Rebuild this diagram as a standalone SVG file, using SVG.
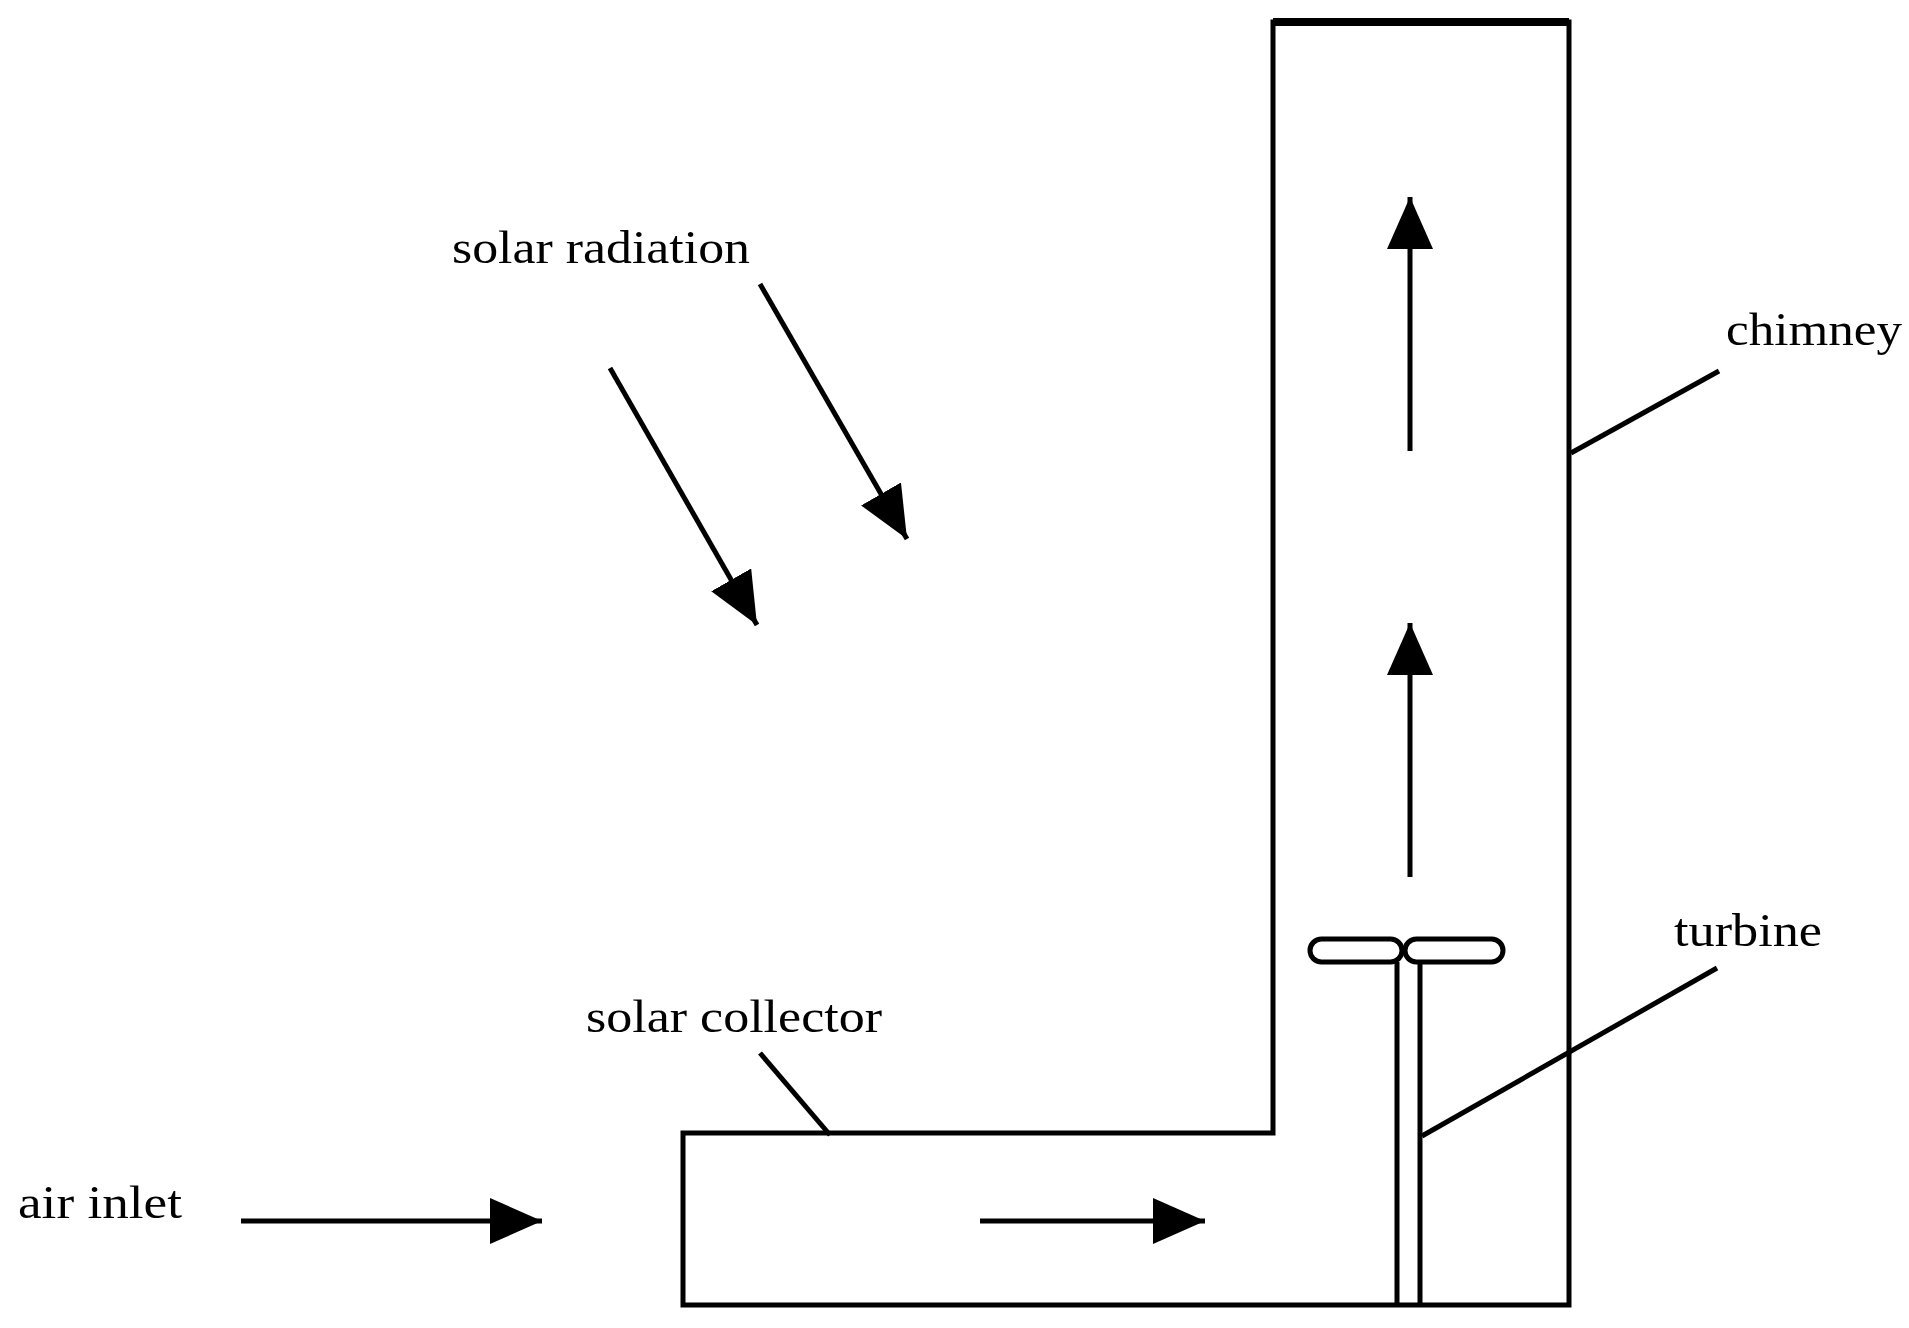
<svg xmlns="http://www.w3.org/2000/svg" width="1909" height="1328" viewBox="0 0 1909 1328">
<defs>
<marker id="ah" markerUnits="userSpaceOnUse" markerWidth="52" markerHeight="46" refX="52" refY="23" orient="auto"><path d="M0,0 L52,23 L0,46 z" fill="#000"/></marker>
</defs>
<style>
.s{stroke:#000;stroke-width:5;fill:none}
.a{stroke:#000;stroke-width:5;fill:none;marker-end:url(#ah)}
text{font-family:"Liberation Serif","Times New Roman",serif;font-size:46px;fill:#000}
</style>
<rect width="1909" height="1328" fill="#fff"/>
<g id="structure">
<path class="s" d="M1273,1133 L1273,22 L1569,22 L1569,1305 L683,1305 L683,1133 Z"/>
<line x1="1273" y1="22" x2="1569" y2="22" stroke="#000" stroke-width="8"/>
</g>
<g id="turbine">
<line class="s" x1="1397" y1="962" x2="1397" y2="1305"/>
<line class="s" x1="1420" y1="962" x2="1420" y2="1305"/>
<rect class="s" x="1310" y="939" width="92" height="23" rx="11.5"/>
<rect class="s" x="1405" y="939" width="98" height="23" rx="11.5"/>
</g>
<g id="connectors">
<line class="a" x1="610" y1="368" x2="757" y2="625"/>
<line class="a" x1="760" y1="284" x2="907" y2="539"/>
<line class="a" x1="241" y1="1221" x2="542" y2="1221"/>
<line class="a" x1="980" y1="1221" x2="1205" y2="1221"/>
<line class="a" x1="1410" y1="877" x2="1410" y2="623"/>
<line class="a" x1="1410" y1="451" x2="1410" y2="197"/>
<line class="s" x1="830" y1="1135" x2="760" y2="1053"/>
<line class="s" x1="1571" y1="453" x2="1719" y2="371"/>
<line class="s" x1="1422" y1="1136" x2="1717" y2="968"/>
</g>
<g id="labels">
<text x="452" y="263" textLength="298" lengthAdjust="spacingAndGlyphs">solar radiation</text>
<text x="1726" y="345" textLength="176" lengthAdjust="spacingAndGlyphs">chimney</text>
<text x="1674" y="946" textLength="148" lengthAdjust="spacingAndGlyphs">turbine</text>
<text x="586" y="1032" textLength="296" lengthAdjust="spacingAndGlyphs">solar collector</text>
<text x="18" y="1218" textLength="164" lengthAdjust="spacingAndGlyphs">air inlet</text>
</g>
</svg>
